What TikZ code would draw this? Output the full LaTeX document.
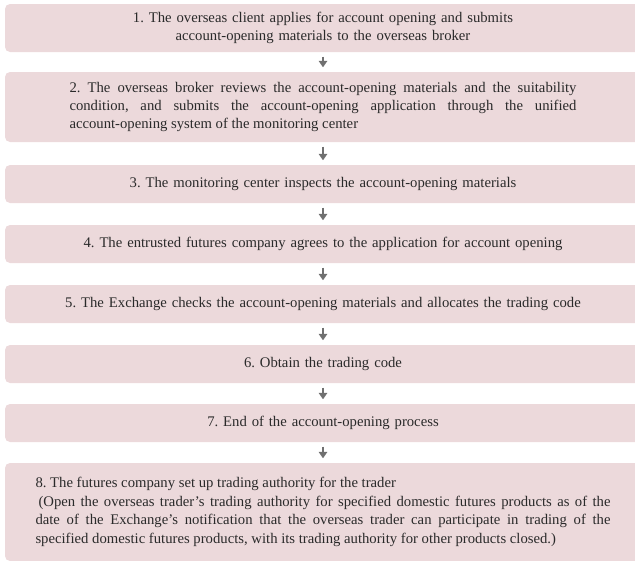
\documentclass[tikz,border=0pt]{standalone}
\usepackage{fontspec}
\setmainfont{Liberation Serif}
\usetikzlibrary{arrows.meta}
\definecolor{boxfill}{HTML}{ECD9DB}
\definecolor{arrowgray}{HTML}{707070}
\definecolor{txt}{HTML}{2A2A2A}
\tikzset{
  stepbox/.style={fill=boxfill, draw=none, rounded corners=5pt, inner sep=0pt,
    minimum width=636pt, text=txt,
    font=\fontsize{14.7}{18.4}\selectfont\frenchspacing},
  flowarrow/.style={draw=arrowgray, line width=2.6pt,
    -{Triangle[width=8.5pt,length=6.5pt]}, shorten <=4.5pt, shorten >=4.5pt}
}
\begin{document}
\begin{tikzpicture}[x=1pt,y=-1pt]
\useasboundingbox (0,0) rectangle (635,560);
\clip (0,0) rectangle (635,560);
\node[stepbox, minimum height=48pt, text width=600pt, align=center] (b1) at (323,28)
  {1. The overseas client applies for account opening and submits\\account-opening materials to the overseas broker};
\node[stepbox, minimum height=70pt, text width=507pt, align=justify] (b2) at (323,107)
  {2. The overseas broker reviews the account-opening materials and the suitability\linebreak condition, and submits the account-opening application through the unified\linebreak account-opening system of the monitoring center};
\node[stepbox, minimum height=38pt, text width=600pt, align=center] (b3) at (323,184)
  {3. The monitoring center inspects the account-opening materials};
\node[stepbox, minimum height=38pt, text width=600pt, align=center] (b4) at (323,244)
  {4. The entrusted futures company agrees to the application for account opening};
\node[stepbox, minimum height=38pt, text width=600pt, align=center] (b5) at (323,304)
  {5. The Exchange checks the account-opening materials and allocates the trading code};
\node[stepbox, minimum height=38pt, text width=600pt, align=center] (b6) at (323,364)
  {6. Obtain the trading code};
\node[stepbox, minimum height=38pt, text width=600pt, align=center] (b7) at (323,423)
  {7. End of the account-opening process};
\node[stepbox, minimum height=98pt, text width=575pt, align=justify] (b8) at (323,512)
  {8. The futures company set up trading authority for the trader\\\hspace*{3pt}(Open the overseas trader's trading authority for specified domestic futures products as of the\linebreak date of the Exchange's notification that the overseas trader can participate in trading of the\linebreak specified domestic futures products, with its trading authority for other products closed.)};
\draw[flowarrow] (b1.south) -- (b2.north);
\draw[flowarrow] (b2.south) -- (b3.north);
\draw[flowarrow] (b3.south) -- (b4.north);
\draw[flowarrow] (b4.south) -- (b5.north);
\draw[flowarrow] (b5.south) -- (b6.north);
\draw[flowarrow] (b6.south) -- (b7.north);
\draw[flowarrow] (b7.south) -- (b8.north);
\end{tikzpicture}
\end{document}
